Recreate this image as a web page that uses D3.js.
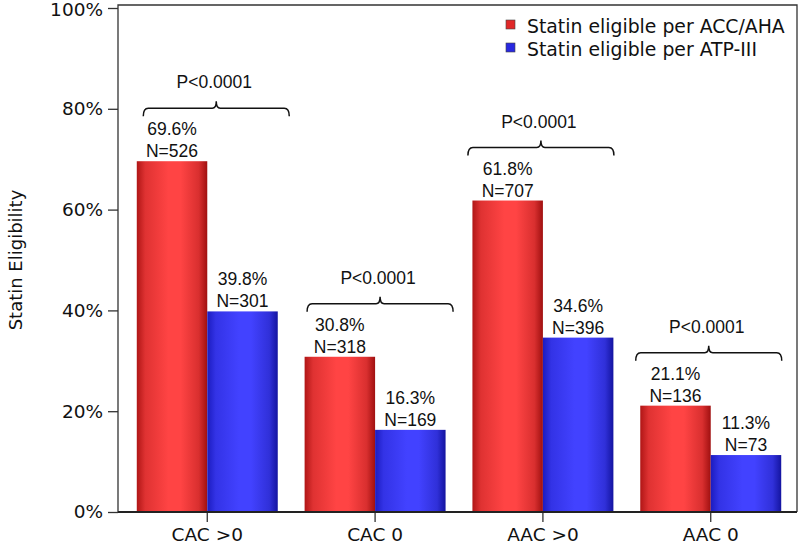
<!DOCTYPE html>
<html><head><meta charset="utf-8">
<script src="https://cdn.jsdelivr.net/npm/d3@7"></script>
<style>body{margin:0;background:#fff}</style>
</head><body>
<svg id="c" width="800" height="550"></svg>
<script>
const categories = ["CAC >0", "CAC 0", "AAC >0", "AAC 0"];
const seriesNames = ["Statin eligible per ACC/AHA", "Statin eligible per ATP-III"];
const accAha = [69.6, 30.8, 61.8, 21.1];
const accAhaN = [526, 318, 707, 136];
const atp3 = [39.8, 16.3, 34.6, 11.3];
const atp3N = [301, 169, 396, 73];
const pValues = ["P<0.0001", "P<0.0001", "P<0.0001", "P<0.0001"];
const yTicks = [0, 20, 40, 60, 80, 100];

const svg = d3.select("#c");
const L = 118, R = 797, T = 5, B = 512;
const y = d3.scaleLinear().domain([0, 100]).range([B, 8]);
const x = d3.scaleBand().domain(categories).range([120, 798]).paddingInner(0.16).paddingOuter(0.1);
const x1 = d3.scaleBand().domain([0, 1]).range([0, x.bandwidth()]);

const defs = svg.append("defs");
function grad(id, edgeL, mid, edgeR) {
  const g = defs.append("linearGradient").attr("id", id).attr("x1", "0").attr("x2", "1").attr("y1", "0").attr("y2", "0");
  [[0, edgeL], [0.12, d3.interpolateRgb(edgeL, mid)(0.6)], [0.45, mid], [0.62, mid], [0.88, d3.interpolateRgb(edgeR, mid)(0.6)], [1, edgeR]]
    .forEach(([o, c]) => g.append("stop").attr("offset", o).attr("stop-color", c));
}
grad("gRed", "#b01616", "#ff4444", "#a01010");
grad("gBlue", "#1c1cc0", "#4242ff", "#1414a0");
const fills = ["url(#gRed)", "url(#gBlue)"];
const legendFills = ["#e02828", "#2828e0"];

// frame
svg.append("path").attr("d", `M${L},${B}V${T}H${R}V${B}`).attr("fill", "none").attr("stroke", "#333").attr("stroke-width", 1.3);

const data = categories.map((c, i) => ({ c, i, vals: [accAha[i], atp3[i]], ns: [accAhaN[i], atp3N[i]] }));

const g = svg.append("g");
data.forEach(d => {
  d.vals.forEach((v, k) => {
    const bx = x(d.c) + x1(k), bw = x1.bandwidth();
    g.append("rect").attr("x", bx).attr("y", y(v)).attr("width", bw).attr("height", y(0) - y(v)).attr("fill", fills[k]);
    const cx = bx + bw / 2;
    g.append("text").attr("x", cx).attr("y", y(v) - 26).attr("text-anchor", "middle")
      .attr("font-family", "Liberation Sans, Arial, sans-serif").attr("font-size", 17.5).attr("fill", "#111").text(v.toFixed(1) + "%");
    g.append("text").attr("x", cx).attr("y", y(v) - 4).attr("text-anchor", "middle")
      .attr("font-family", "Liberation Sans, Arial, sans-serif").attr("font-size", 17.5).attr("fill", "#111").text("N=" + d.ns[k]);
  });
});

// brackets
const nudge = [9, 5, -2, -2];
data.forEach((d, i) => {
  const cx = x(d.c) + x.bandwidth() / 2 + nudge[i];
  const hw = 73;
  const by = y(Math.max(...d.vals)) - 53;
  const x1b = cx - hw, x2b = cx + hw;
  const p = `M${x1b},${by + 8} Q${x1b},${by} ${x1b + 5},${by} L${cx - 4},${by} Q${cx},${by} ${cx},${by - 7} Q${cx},${by} ${cx + 4},${by} L${x2b - 5},${by} Q${x2b},${by} ${x2b},${by + 8}`;
  svg.append("path").attr("d", p).attr("fill", "none").attr("stroke", "#111").attr("stroke-width", 1.5);
  svg.append("text").attr("x", cx - 2).attr("y", by - 20).attr("text-anchor", "middle")
    .attr("font-family", "Liberation Sans, Arial, sans-serif").attr("font-size", 17.5).attr("fill", "#111").text(pValues[i]);
});

// y axis
const yAxis = d3.axisLeft(y).tickValues(yTicks).tickSize(10).tickPadding(5).tickFormat(d => d + "%");
const ya = svg.append("g").attr("transform", `translate(${L},0)`).call(yAxis);
ya.select(".domain").remove();
ya.selectAll("line").attr("stroke", "#333").attr("stroke-width", 1.3);
ya.selectAll("text").attr("font-family", "DejaVu Sans, Verdana, sans-serif").attr("font-size", 18.5).attr("fill", "#111");
ya.selectAll(".tick").filter(d => d === 100).select("text").attr("dy", "0.38em");

// x axis
const xAxis = d3.axisBottom(x).tickSize(10).tickPadding(6);
const xa = svg.append("g").attr("transform", `translate(0,${B})`).call(xAxis);
xa.select(".domain").remove();
xa.selectAll("line").attr("stroke", "#333").attr("stroke-width", 1.3);
xa.selectAll("text").attr("font-family", "DejaVu Sans, Verdana, sans-serif").attr("font-size", 18.5).attr("fill", "#111");
svg.append("line").attr("x1", L).attr("x2", R).attr("y1", B).attr("y2", B).attr("stroke", "#222").attr("stroke-width", 2.2);

// y title
svg.append("text").attr("transform", `translate(22,${(y(0) + y(100)) / 2}) rotate(-90)`).attr("text-anchor", "middle")
  .attr("font-family", "DejaVu Sans, Verdana, sans-serif").attr("font-size", 18).attr("fill", "#111").text("Statin Eligibility");

// legend
const legTexts = [];
seriesNames.forEach((s, k) => {
  const ly = 20 + k * 23;
  svg.append("rect").attr("x", 506).attr("y", ly).attr("width", 9).attr("height", 9).attr("fill", legendFills[k]).attr("stroke", "#444").attr("stroke-width", 0.6);
  legTexts.push(svg.append("text").attr("x", 527).attr("y", ly + 13).attr("font-family", "DejaVu Sans, Verdana, sans-serif").attr("font-size", 20).attr("fill", "#111").text(s));
});
const w0 = legTexts[0].node().getComputedTextLength();
const fs = Math.min(21, 20 * 258 / w0);
legTexts.forEach(t => t.attr("font-size", fs));
</script>
</body></html>
